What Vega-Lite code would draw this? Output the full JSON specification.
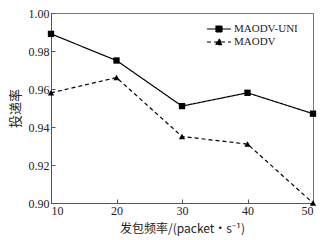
{
  "$schema": "https://vega.github.io/schema/vega-lite/v6.json",
  "autosize": {"type": "none"},
  "width": 262,
  "height": 190,
  "padding": {"left": 51, "top": 13, "right": 18, "bottom": 37},
  "background": "white",
  "config": {
    "view": {"stroke": "#777", "strokeWidth": 1},
    "font": "Liberation Serif",
    "axis": {
      "domainColor": "#555",
      "tickColor": "#555",
      "labelColor": "#222",
      "titleColor": "#222",
      "labelFont": "Liberation Serif",
      "labelFontSize": 12,
      "titleFont": "Noto Sans CJK SC",
      "titleFontWeight": "normal",
      "grid": false
    }
  },
  "data": {
    "values": [
      {"rate": 10, "pdr": 0.989, "series": "MAODV-UNI"},
      {"rate": 20, "pdr": 0.975, "series": "MAODV-UNI"},
      {"rate": 30, "pdr": 0.951, "series": "MAODV-UNI"},
      {"rate": 40, "pdr": 0.958, "series": "MAODV-UNI"},
      {"rate": 50, "pdr": 0.947, "series": "MAODV-UNI"},
      {"rate": 10, "pdr": 0.958, "series": "MAODV"},
      {"rate": 20, "pdr": 0.966, "series": "MAODV"},
      {"rate": 30, "pdr": 0.935, "series": "MAODV"},
      {"rate": 40, "pdr": 0.931, "series": "MAODV"},
      {"rate": 50, "pdr": 0.900, "series": "MAODV"}
    ]
  },
  "encoding": {
    "x": {
      "field": "rate", "type": "quantitative",
      "scale": {"domain": [10, 50], "nice": false},
      "axis": {"values": [10, 20, 30, 40, 50], "tickSize": -4, "labelPadding": 6,
               "title": "发包频率/(packet·s⁻¹)", "titleFontSize": 12, "titlePadding": 7}
    },
    "y": {
      "field": "pdr", "type": "quantitative",
      "scale": {"domain": [0.9, 1.0], "nice": false, "zero": false},
      "axis": {"values": [0.9, 0.92, 0.94, 0.96, 0.98, 1.0], "format": ".2f", "tickSize": -4,
               "labelPadding": 6, "title": "投递率", "titleFontSize": 13, "titlePadding": 6}
    }
  },
  "layer": [
    {
      "mark": {"type": "line", "color": "black", "strokeWidth": 1.2},
      "encoding": {
        "strokeDash": {
          "field": "series", "type": "nominal",
          "scale": {"domain": ["MAODV-UNI", "MAODV"], "range": [[1, 0], [4, 3]]},
          "legend": {
            "title": null, "orient": "none", "legendX": 161, "legendY": 9, "padding": 0,
            "labelFont": "Liberation Serif", "labelFontSize": 11, "labelColor": "#222",
            "symbolSize": 144, "symbolStrokeWidth": 1.2, "symbolStrokeColor": "black",
            "rowPadding": 0, "labelOffset": 8,
            "encode": {
              "symbols": {
                "update": {
                  "shape": {"signal": "datum.value == 'MAODV' ? 'M-2,0H2M-0.55,0.45L0,-0.55L0.55,0.45Z' : 'M-2,0H2M-0.5,-0.5H0.5V0.5H-0.5Z'"},
                  "fill": {"value": "black"},
                  "stroke": {"value": "black"}
                }
              }
            }
          }
        }
      }
    },
    {
      "mark": {"type": "point", "filled": true, "color": "black", "size": 40, "opacity": 1},
      "encoding": {
        "shape": {
          "condition": {"test": "datum.series == 'MAODV'", "value": "triangle-up"},
          "value": "square"
        }
      }
    }
  ]
}
